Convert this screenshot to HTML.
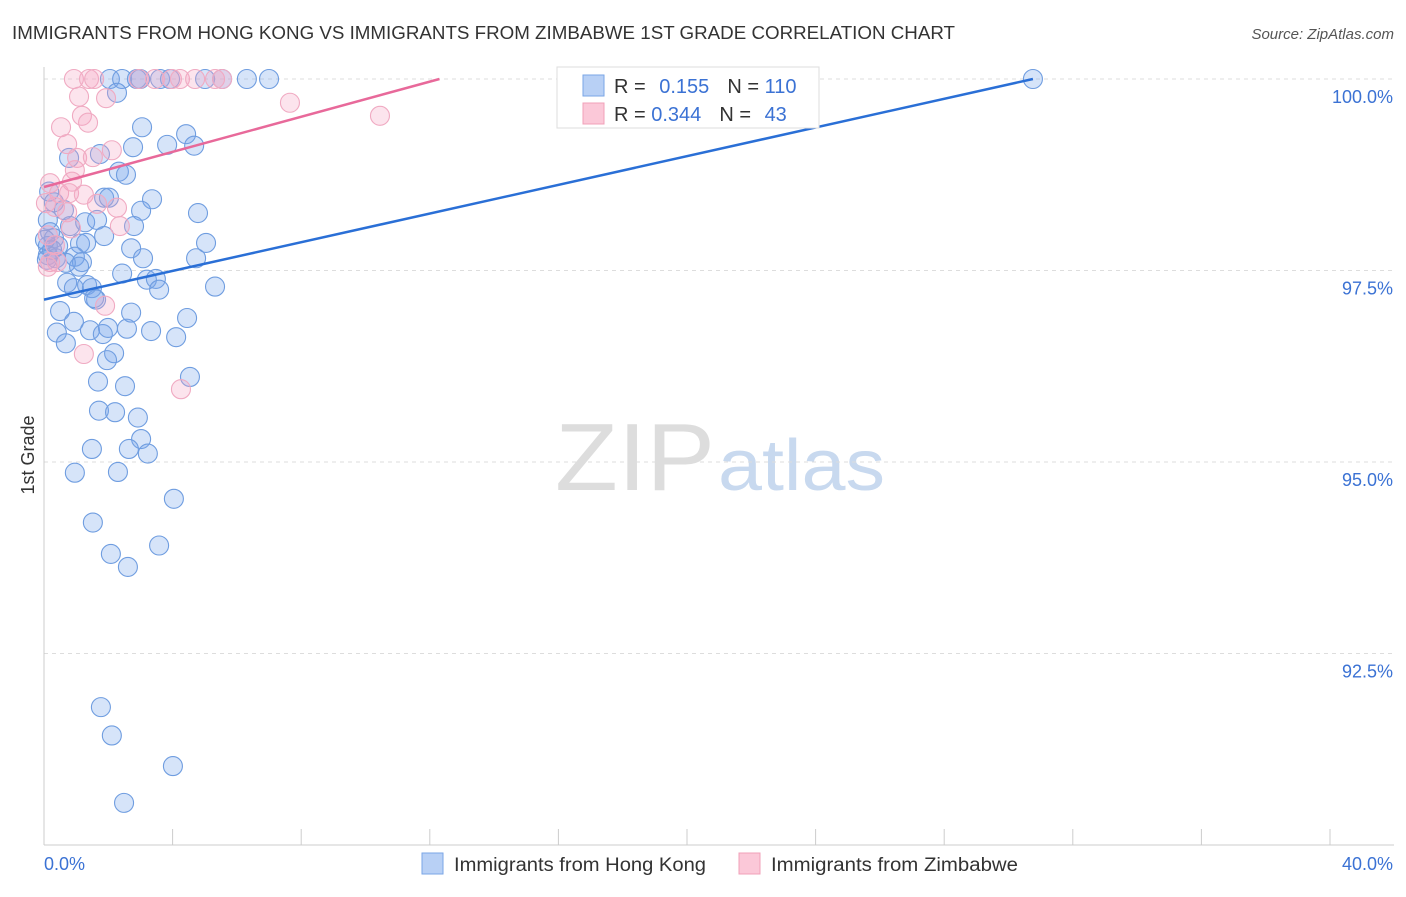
<!DOCTYPE html>
<html><head><meta charset="utf-8"><style>
body{margin:0;background:#fff;font-family:"Liberation Sans",sans-serif;}
svg text{font-family:"Liberation Sans",sans-serif;}
</style></head><body>
<svg id="chart" width="1406" height="892" xmlns="http://www.w3.org/2000/svg">
<text x="12" y="39" font-size="18" fill="#333" textLength="943" lengthAdjust="spacingAndGlyphs">IMMIGRANTS FROM HONG KONG VS IMMIGRANTS FROM ZIMBABWE 1ST GRADE CORRELATION CHART</text>
<text x="1394" y="39" font-size="15" fill="#555" font-style="italic" text-anchor="end">Source: ZipAtlas.com</text>
<text x="555" y="490" font-size="96" fill="#ddd" font-family="Liberation Serif" textLength="160" lengthAdjust="spacingAndGlyphs">ZIP</text>
<text x="718" y="490" font-size="72" fill="#c8d9ef" textLength="167" lengthAdjust="spacingAndGlyphs">atlas</text>
<text x="34" y="455" font-size="18" fill="#333" transform="rotate(-90 34 455)" text-anchor="middle">1st Grade</text>
<g id="grid"></g><g id="pts"></g><g id="lines"></g>
<g>
<rect x="557" y="67" width="262" height="61" fill="#fff" stroke="#ddd"/>
<rect x="583" y="75" width="21" height="21" fill="#b8d0f5" stroke="#7aa6e6"/>
<rect x="583" y="103" width="21" height="21" fill="#fbc8d8" stroke="#f0a0b8"/>
<text x="614" y="93" font-size="20" fill="#333">R = <tspan fill="#3b72d4" dx="8">0.155</tspan><tspan dx="18" fill="#333">N = </tspan><tspan fill="#3b72d4">110</tspan></text>
<text x="614" y="121" font-size="20" fill="#333">R = <tspan fill="#3b72d4">0.344</tspan><tspan dx="18" fill="#333">N = </tspan><tspan fill="#3b72d4" dx="8">43</tspan></text>
</g>
<g>
<rect x="422" y="853" width="21" height="21" fill="#b8d0f5" stroke="#7aa6e6"/>
<text x="454" y="871" font-size="19" fill="#333" textLength="252" lengthAdjust="spacingAndGlyphs">Immigrants from Hong Kong</text>
<rect x="739" y="853" width="21" height="21" fill="#fbc8d8" stroke="#f0a0b8"/>
<text x="771" y="871" font-size="19" fill="#333" textLength="247" lengthAdjust="spacingAndGlyphs">Immigrants from Zimbabwe</text>
</g>
</svg>
<script>
const xTicks=[0,4,8,12,16,20,24,28,32,36,40];
const yTicks=[100,97.5,95,92.5];
const yTickLabels=["100.0%","97.5%","95.0%","92.5%"];
const blueX=[2.05,2.43,2.89,2.99,3.61,3.92,5.01,5.54,6.31,7.00,2.27,3.05,0.78,1.74,2.77,3.83,4.42,4.67,2.33,2.55,3.36,1.87,2.02,3.02,4.79,0.16,0.31,0.62,0.12,0.81,1.28,1.65,2.80,0.19,0.31,0.12,0.44,1.12,1.31,1.87,2.71,5.04,0.12,0.37,0.96,1.18,3.08,4.73,0.68,1.09,2.43,3.20,3.48,0.72,0.93,1.34,1.49,1.62,1.56,3.58,5.32,0.50,0.93,1.43,1.83,1.99,2.58,2.71,3.33,4.11,4.45,0.40,0.68,2.18,1.96,1.68,2.52,4.54,1.71,2.21,2.92,3.02,1.49,2.64,3.23,0.96,2.30,4.04,1.52,2.08,2.61,3.58,1.77,2.11,4.01,2.49,30.76,0.09,0.25,0.03];
const blueY=[100,100,100,100,100,100,100,100,100,100,99.82,99.37,98.97,99.02,99.11,99.14,99.28,99.13,98.79,98.75,98.43,98.45,98.45,98.28,98.25,98.53,98.39,98.29,98.16,98.08,98.13,98.16,98.08,98.00,97.92,97.82,97.82,97.85,97.86,97.95,97.79,97.86,97.70,97.66,97.68,97.61,97.66,97.66,97.60,97.55,97.46,97.38,97.39,97.34,97.27,97.31,97.27,97.12,97.14,97.25,97.29,96.97,96.83,96.72,96.67,96.75,96.74,96.95,96.71,96.63,96.88,96.69,96.55,96.42,96.33,96.05,95.99,96.11,95.67,95.65,95.58,95.30,95.17,95.17,95.11,94.86,94.87,94.52,94.21,93.80,93.63,93.91,91.80,91.43,91.03,90.55,100,97.64,97.77,97.90];
const pinkX=[0.93,1.40,1.56,2.95,3.45,3.98,4.23,4.70,5.32,5.54,16.58,1.09,1.93,7.65,10.45,0.53,1.18,1.37,0.72,1.03,1.52,2.11,0.96,0.87,0.19,0.47,0.78,1.24,1.65,2.27,0.34,0.72,0.06,0.12,0.34,0.19,0.40,0.12,1.90,1.24,4.26,2.36,0.84];
const pinkY=[100,100,100,100,100,100,100,100,100,100,100,99.77,99.75,99.69,99.52,99.37,99.52,99.43,99.15,98.97,98.98,99.07,98.81,98.66,98.64,98.51,98.51,98.49,98.37,98.32,98.33,98.26,98.38,97.96,97.83,97.61,97.61,97.55,97.04,96.41,95.95,98.08,98.05];
const blueTrend=[0,97.12,30.76,100];
const pinkTrend=[0,98.59,12.3,100];
const NS='http://www.w3.org/2000/svg';
const sx=v=>44+v/40*1286;
const sy=v=>79+(100-v)/2.5*191.5;
function mk(tag,attrs,parent){const e=document.createElementNS(NS,tag);for(const k in attrs)e.setAttribute(k,attrs[k]);parent.appendChild(e);return e;}
const grid=document.getElementById('grid'),pts=document.getElementById('pts'),lines=document.getElementById('lines');
yTicks.forEach((t,i)=>{
 const l=mk('line',{x1:44,x2:1394,y1:sy(t),y2:sy(t),stroke:'#ddd','stroke-dasharray':'4,4'},grid);
 
 
 const tx=mk('text',{x:1393,y:sy(t)+24,'font-size':18,fill:'#3b72d4','text-anchor':'end'},grid);
 tx.textContent=yTickLabels[i];
 
 
});
const ax=mk('line',{x1:44,x2:44,y1:67,y2:845,stroke:'#ccc'},grid);


const bx=mk('line',{x1:44,x2:1394,y1:845,y2:845,stroke:'#ccc'},grid);


xTicks.forEach(t=>{
 const l=mk('line',{x1:sx(t),x2:sx(t),y1:829,y2:845,stroke:'#ccc'},grid);
 
 
});
const xl0=mk('text',{x:44,y:870,'font-size':18,fill:'#3b72d4'},grid);xl0.textContent=xTicks[0].toFixed(1)+'%';


const xl1=mk('text',{x:1393,y:870,'font-size':18,fill:'#3b72d4','text-anchor':'end'},grid);xl1.textContent=xTicks[xTicks.length-1].toFixed(1)+'%';


blueX.forEach((x,i)=>{
 const c=mk('circle',{cx:sx(x),cy:sy(blueY[i]),r:9.5,fill:'rgba(120,165,235,0.3)',stroke:'#6f9de0','stroke-width':1.1},pts);
 
 
});
pinkX.forEach((x,i)=>{
 const c=mk('circle',{cx:sx(x),cy:sy(pinkY[i]),r:9.5,fill:'rgba(245,165,195,0.3)',stroke:'#f0aac2','stroke-width':1.1},pts);
 
 
});
const bl=mk('line',{x1:sx(blueTrend[0]),y1:sy(blueTrend[1]),x2:sx(blueTrend[2]),y2:sy(blueTrend[3]),stroke:'#2a6fd6','stroke-width':2.5},lines);


const pl=mk('line',{x1:sx(pinkTrend[0]),y1:sy(pinkTrend[1]),x2:sx(pinkTrend[2]),y2:sy(pinkTrend[3]),stroke:'#e8699a','stroke-width':2.5},lines);


</script>
</body></html>
